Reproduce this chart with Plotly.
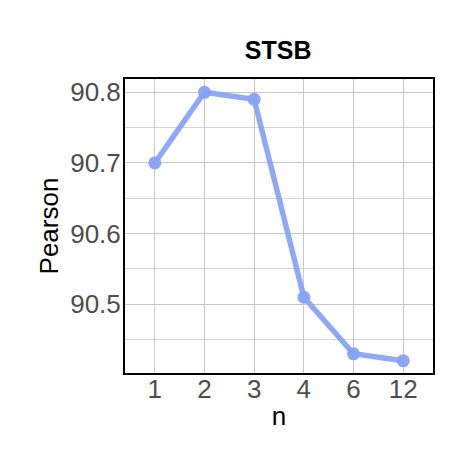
import plotly.graph_objects as go

n_labels = ["1", "2", "3", "4", "6", "12"]
pearson = [90.70, 90.80, 90.79, 90.51, 90.43, 90.42]

fig = go.Figure()
fig.add_trace(go.Scatter(
    x=n_labels, y=pearson, mode="lines+markers",
    line=dict(color="rgba(135,162,245,0.92)", width=5.5),
    marker=dict(color="rgba(135,162,245,0.95)", size=13),
    showlegend=False,
))

fig.update_layout(
    width=465, height=465,
    margin=dict(l=117, r=40, t=71, b=100),
    plot_bgcolor="white", paper_bgcolor="white",
    font=dict(family="Liberation Sans, Arial", color="black"),
    title=dict(text="<b>STSB</b>", x=0.581, xanchor="center", y=0.91, yanchor="middle",
               font=dict(size=25, color="black")),
)
fig.update_xaxes(
    type="category", range=[-0.6, 5.6],
    showline=True, linecolor="black", linewidth=2, mirror=True,
    showgrid=True, gridcolor="#c8c8c8", gridwidth=1,
    ticks="", tickfont=dict(size=26, color="#4d4d4d"), ticklabelstandoff=-8,
    title=dict(text="n", font=dict(size=26, color="black"), standoff=4),
    zeroline=False, automargin=False,
)
fig.update_yaxes(
    range=[90.4028, 90.8188],
    tickvals=[90.5, 90.6, 90.7, 90.8], ticktext=["90.5", "90.6", "90.7", "90.8"],
    showline=True, linecolor="black", linewidth=2, mirror=True,
    showgrid=True, gridcolor="#c8c8c8", gridwidth=1,
    minor=dict(tickvals=[90.45, 90.55, 90.65, 90.75], showgrid=True, gridcolor="#d4d4d4", gridwidth=1),
    ticks="", tickfont=dict(size=26, color="#4d4d4d"), ticklabelstandoff=-3,
    title=dict(text="Pearson", font=dict(size=26, color="black"), standoff=4),
    zeroline=False, automargin=False,
)

fig.write_html("out.html")
